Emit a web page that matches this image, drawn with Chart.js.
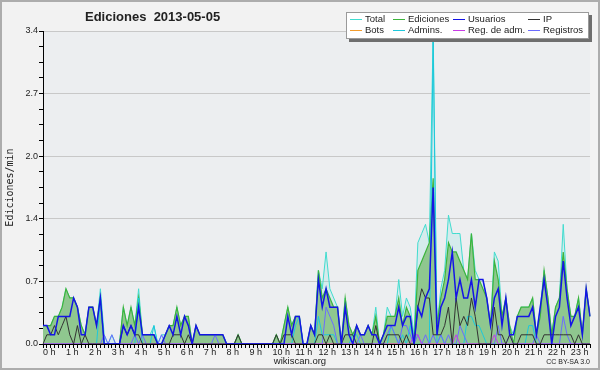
<!DOCTYPE html>
<html>
<head>
<meta charset="utf-8">
<script src="https://cdn.jsdelivr.net/npm/chart.js@4.4.0/dist/chart.umd.min.js"></script>
<style>
  body { margin: 0; background: #fff; }
  #wrap { position: relative; width: 600px; height: 370px; background: #f2f2f2; font-family: "Liberation Sans", Arial, sans-serif; color: #222; overflow: hidden; }
  #grafico { position: absolute; left: 0; top: 0; }
  #marco { position: absolute; left: 0; top: 0; width: 600px; height: 370px; box-sizing: border-box; border: 2px solid #adadad; pointer-events: none; }
  #titulo { position: absolute; left: 85px; top: 9px; font-weight: bold; font-size: 13px; white-space: pre; }
  #leyenda { position: absolute; left: 346px; top: 12px; width: 243px; height: 27px; box-sizing: border-box; background: #fff; border: 1px solid #9a9a9a; box-shadow: 3px 3px 0 #6e6e6e; font-size: 9.5px; }
  .item { position: absolute; white-space: nowrap; line-height: 11px; }
  .muestra { display: inline-block; width: 12px; height: 0; border-top: 1px solid; vertical-align: middle; margin-right: 3px; }
  #sitio { position: absolute; left: 0; width: 600px; top: 355px; text-align: center; font-size: 9.5px; }
  #licencia { position: absolute; right: 10px; top: 358px; font-size: 7px; }
</style>
</head>
<body>
<div id="wrap">
  <canvas id="grafico" width="600" height="370"></canvas>
  <div id="titulo">Ediciones  2013-05-05</div>
  <div id="leyenda"></div>
  <div id="sitio">wikiscan.org</div>
  <div id="licencia">CC BY-SA 3.0</div>
  <div id="marco"></div>
</div>
<script>
// etiquetas del eje x (una por hora) y del eje y
var horas = ['0 h', '1 h', '2 h', '3 h', '4 h', '5 h', '6 h', '7 h', '8 h', '9 h', '10 h', '11 h',
             '12 h', '13 h', '14 h', '15 h', '16 h', '17 h', '18 h', '19 h', '20 h', '21 h', '22 h', '23 h'];
var yMax = 3.4;
var yEtiquetas = ['0.0', '0.7', '1.4', '2.0', '2.7', '3.4'];

// ediciones por minuto, tramos de 10 minutos (6 por hora)
var total = [
  0.2, 0.2, 0.2, 0.3, 0.3, 0.4,   0.6, 0.5, 0.5, 0.4, 0.2, 0.1,
  0.4, 0.4, 0.2, 0.6, 0.1, 0,     0.1, 0, 0, 0.4, 0.2, 0.4,
  0.2, 0.6, 0.1, 0.1, 0.1, 0.2,   0, 0.1, 0.1, 0.2, 0.2, 0.4,
  0.2, 0.3, 0.3, 0, 0.2, 0.1,     0.1, 0.1, 0.1, 0.1, 0.1, 0.1,
  0, 0, 0, 0.1, 0, 0,             0, 0, 0, 0, 0, 0,
  0, 0.1, 0, 0.2, 0.4, 0.2,       0.3, 0.3, 0, 0, 0.2, 0.1,
  0.8, 0.6, 1.0, 0.6, 0.5, 0.4,   0, 0.5, 0.2, 0.1, 0.2, 0.1,
  0.1, 0.2, 0.1, 0.4, 0, 0.1,     0.4, 0.3, 0.3, 0.7, 0.3, 0.5,
  0.4, 0.1, 1.1, 1.2, 1.3, 1.1,   3.4, 0.2, 0.6, 0.8, 1.4, 1.2,
  1.2, 1.2, 0.8, 0.7, 1.2, 0.8,   0.7, 0.7, 0.5, 0.2, 1.0, 0.9,
  0.3, 0.5, 0.2, 0.1, 0.3, 0.4,   0.4, 0.4, 0.5, 0.1, 0.4, 0.8,
  0.5, 0.1, 0.4, 0.5, 1.3, 0.6,   0.3, 0.3, 0.5, 0.1, 0.6, 0.3
];
var ediciones = [
  0.2, 0.2, 0.2, 0.3, 0.3, 0.4,   0.6, 0.5, 0.5, 0.4, 0.2, 0.1,
  0.4, 0.4, 0.2, 0.5, 0, 0,       0, 0, 0, 0.4, 0.2, 0.4,
  0.2, 0.5, 0.1, 0.1, 0.1, 0.1,   0, 0, 0.1, 0.2, 0.2, 0.4,
  0.2, 0.3, 0.3, 0, 0.2, 0.1,     0.1, 0.1, 0.1, 0.1, 0.1, 0.1,
  0, 0, 0, 0.1, 0, 0,             0, 0, 0, 0, 0, 0,
  0, 0.1, 0, 0.2, 0.4, 0.2,       0.3, 0.3, 0, 0, 0.2, 0.1,
  0.8, 0.5, 0.6, 0.5, 0.4, 0.4,   0, 0.5, 0.2, 0.1, 0.2, 0.1,
  0.1, 0.2, 0.1, 0.3, 0, 0.1,     0.3, 0.3, 0.3, 0.5, 0.2, 0.4,
  0.3, 0, 0.8, 0.9, 1.0, 1.1,     1.8, 0.2, 0.5, 0.7, 1.1, 1.0,
  1.0, 0.9, 0.8, 0.7, 1.2, 0.7,   0.7, 0.6, 0.5, 0.2, 0.9, 0.7,
  0.3, 0.5, 0.2, 0, 0.3, 0.4,     0.4, 0.4, 0.5, 0.1, 0.3, 0.8,
  0.5, 0.1, 0.4, 0.5, 1.0, 0.6,   0.3, 0.3, 0.5, 0.1, 0.6, 0.3
];
var usuarios = [
  0.2, 0.2, 0.1, 0.1, 0.3, 0.3,   0.3, 0.3, 0.5, 0.4, 0.1, 0.1,
  0.4, 0.4, 0.2, 0.5, 0, 0,       0, 0, 0, 0.2, 0.1, 0.2,
  0.1, 0.4, 0.1, 0.1, 0.1, 0.1,   0, 0, 0.1, 0.2, 0.1, 0.3,
  0.1, 0.3, 0.2, 0, 0.2, 0.1,     0.1, 0.1, 0.1, 0.1, 0.1, 0.1,
  0, 0, 0, 0, 0, 0,               0, 0, 0, 0, 0, 0,
  0, 0, 0, 0, 0.3, 0.1,           0.3, 0.3, 0, 0, 0.2, 0.1,
  0.7, 0.4, 0.6, 0.4, 0.4, 0.4,   0, 0.4, 0.1, 0, 0.2, 0.1,
  0.1, 0.2, 0.1, 0.1, 0, 0.1,     0.2, 0.2, 0.2, 0.4, 0.2, 0.3,
  0.3, 0, 0.4, 0.3, 0.5, 0.6,     1.7, 0.1, 0.4, 0.5, 0.7, 1.0,
  0.5, 0.7, 0.5, 0.5, 0.7, 0.4,   0.7, 0.7, 0.5, 0.2, 0.5, 0.6,
  0.2, 0.5, 0.1, 0.1, 0.3, 0.3,   0.3, 0.3, 0.4, 0.1, 0.4, 0.7,
  0.4, 0, 0.3, 0.4, 0.9, 0.5,     0.2, 0.3, 0.4, 0.1, 0.6, 0.3
];
var ip = [
  0, 0.1, 0.1, 0.2, 0.1, 0.2,     0.3, 0.1, 0, 0.2, 0, 0.1,
  0, 0, 0, 0, 0, 0,               0, 0, 0, 0.2, 0.1, 0.2,
  0.1, 0.1, 0, 0, 0, 0,           0, 0, 0, 0, 0.1, 0.1,
  0.1, 0, 0.1, 0, 0, 0,           0, 0, 0, 0, 0, 0,
  0, 0, 0, 0.1, 0, 0,             0, 0, 0, 0, 0, 0,
  0, 0.1, 0, 0.1, 0.1, 0.1,       0, 0, 0, 0, 0, 0,
  0.1, 0.1, 0, 0.1, 0, 0,         0, 0.1, 0.1, 0.1, 0, 0,
  0, 0, 0, 0.2, 0, 0,             0.1, 0.1, 0.1, 0.1, 0, 0.1,
  0, 0, 0.4, 0.6, 0.5, 0.5,       0.1, 0.1, 0.1, 0.2, 0.4, 0,
  0.5, 0.2, 0.3, 0.2, 0.5, 0.3,   0, 0, 0, 0, 0.4, 0.1,
  0.1, 0, 0.1, 0, 0, 0.1,         0.1, 0.1, 0.1, 0, 0, 0.1,
  0.1, 0.1, 0.1, 0.1, 0.1, 0.1,   0.1, 0, 0.1, 0, 0, 0
];
var bots = [
  0, 0, 0, 0, 0, 0, 0, 0, 0, 0, 0, 0,   0, 0, 0, 0, 0, 0, 0, 0, 0, 0, 0, 0,
  0, 0, 0, 0, 0, 0, 0, 0, 0, 0, 0, 0,   0, 0, 0, 0, 0, 0, 0, 0, 0, 0, 0, 0,
  0, 0, 0, 0, 0, 0, 0, 0, 0, 0, 0, 0,   0, 0, 0, 0, 0, 0, 0, 0, 0, 0, 0, 0,
  0, 0, 0, 0, 0, 0, 0, 0, 0, 0, 0, 0,   0, 0, 0, 0, 0, 0, 0, 0, 0, 0, 0, 0,
  0, 0, 0, 0, 0, 0, 0, 0, 0, 0, 0, 0,   0, 0, 0, 0, 0, 0, 0, 0, 0, 0, 0, 0,
  0, 0, 0, 0, 0, 0, 0, 0, 0, 0, 0, 0,   0, 0, 0, 0, 0, 0, 0, 0, 0, 0, 0, 0
];
var admins = [
  0, 0, 0, 0, 0, 0,               0, 0, 0, 0, 0, 0,
  0, 0, 0, 0.5, 0, 0,             0, 0, 0, 0, 0, 0,
  0, 0.5, 0, 0, 0, 0.2,           0, 0, 0, 0, 0, 0,
  0, 0, 0, 0, 0, 0,               0, 0, 0, 0, 0, 0,
  0, 0, 0, 0, 0, 0,               0, 0, 0, 0, 0, 0,
  0, 0, 0, 0, 0, 0,               0.2, 0.3, 0, 0, 0, 0,
  0.3, 0.1, 0.1, 0.1, 0.1, 0,     0, 0, 0, 0.1, 0.1, 0,
  0, 0, 0, 0, 0, 0,               0, 0.2, 0.1, 0, 0.1, 0,
  0.2, 0, 0, 0, 0, 0,             3.3, 0, 0.1, 0, 0, 0,
  0, 0, 0, 0.3, 0.3, 0.2,         0.2, 0.1, 0, 0, 0, 0,
  0, 0, 0, 0, 0, 0,               0, 0.2, 0.2, 0, 0, 0,
  0, 0, 0, 0, 0, 0,               0, 0, 0, 0, 0, 0
];
var regAdm = [
  0, 0, 0, 0, 0, 0,               0, 0, 0, 0, 0, 0,
  0, 0, 0, 0, 0, 0,               0, 0, 0, 0, 0, 0,
  0, 0, 0, 0, 0, 0,               0, 0, 0, 0, 0, 0,
  0, 0, 0, 0, 0, 0,               0, 0, 0, 0, 0, 0,
  0, 0, 0, 0, 0, 0,               0, 0, 0, 0, 0, 0,
  0, 0, 0, 0, 0, 0,               0, 0, 0, 0, 0, 0,
  0, 0, 0, 0, 0, 0,               0, 0, 0, 0, 0, 0,
  0, 0, 0, 0, 0, 0,               0, 0, 0, 0, 0, 0,
  0, 0.1, 0.1, 0, 0, 0,           0, 0, 0, 0, 0, 0,
  0.1, 0, 0, 0, 0, 0,             0, 0, 0, 0, 0.1, 0,
  0, 0, 0, 0, 0, 0,               0, 0, 0, 0, 0, 0,
  0, 0, 0, 0, 0, 0,               0, 0, 0, 0, 0, 0
];
var registros = [
  0, 0, 0, 0, 0, 0,               0, 0, 0, 0, 0, 0,
  0, 0, 0, 0, 0.1, 0,             0.1, 0, 0, 0, 0, 0,
  0.1, 0, 0.1, 0, 0, 0,           0, 0.1, 0, 0, 0, 0,
  0, 0, 0, 0, 0, 0,               0, 0, 0, 0.1, 0, 0,
  0, 0, 0, 0, 0, 0,               0, 0, 0, 0, 0, 0,
  0, 0, 0, 0, 0, 0,               0, 0, 0, 0, 0, 0,
  0, 0, 0.4, 0.3, 0.2, 0,         0, 0, 0, 0, 0, 0.1,
  0, 0, 0, 0, 0, 0,               0.1, 0.2, 0.1, 0, 0.2, 0.2,
  0.1, 0, 0.1, 0, 0.1, 0,         0.1, 0, 0.1, 0, 0.1, 0,
  0, 0.2, 0.1, 0, 0, 0,           0, 0, 0, 0, 0, 0.2,
  0, 0, 0.1, 0, 0, 0,             0, 0, 0, 0.1, 0, 0,
  0, 0, 0, 0, 0.3, 0.1,           0, 0, 0, 0, 0, 0
];

// un tramo cada 10 minutos
var tramos = [];
for (var h = 0; h < 24; h++) {
  for (var m = 0; m < 60; m += 10) {
    tramos.push(h + ':' + (m < 10 ? '0' : '') + m);
  }
}

var fuente = 'Liberation Sans';

function serie(etiqueta, datos, color, ancho) {
  return {
    label: etiqueta,
    data: datos,
    borderColor: color,
    borderWidth: ancho,
    pointRadius: 0,
    tension: 0,
    fill: false
  };
}

// el primero se dibuja encima
var usuariosSerie = serie('Usuarios', usuarios, '#1414e6', 1.5);
var ipSerie = serie('IP', ip, '#333333', 1);
var regAdmSerie = serie('Reg. de adm.', regAdm, '#c83ce6', 1);
var registrosSerie = serie('Registros', registros, '#6b6bff', 1);
var adminsSerie = serie('Admins.', admins, '#1ec8dc', 1);
var botsSerie = serie('Bots', bots, '#f39c2d', 1);
var edicionesSerie = serie('Ediciones', ediciones, '#3cb43c', 1.2);
edicionesSerie.fill = 'origin';
edicionesSerie.backgroundColor = '#8fc78f';
var totalSerie = serie('Total', total, '#40dccf', 1);
totalSerie.fill = 'origin';
totalSerie.backgroundColor = 'rgba(64, 220, 207, 0.13)';

var series = [usuariosSerie, ipSerie, regAdmSerie, registrosSerie, adminsSerie, botsSerie, edicionesSerie, totalSerie];

var fondo = {
  id: 'fondo',
  beforeDraw: function(chart) {
    var a = chart.chartArea;
    var ctx = chart.ctx;
    ctx.save();
    ctx.fillStyle = '#eceef0';
    ctx.fillRect(a.left, a.top, a.right - a.left, a.bottom - a.top);
    ctx.restore();
  }
};

new Chart(document.getElementById('grafico'), {
  type: 'line',
  data: { labels: tramos, datasets: series },
  plugins: [fondo],
  options: {
    responsive: false,
    animation: false,
    devicePixelRatio: 1,
    layout: { padding: { top: 31, right: 10, left: 0, bottom: 0 } },
    plugins: { legend: { display: false }, tooltip: { enabled: false } },
    scales: {
      x: {
        type: 'category',
        offset: false,
        z: 1,
        grid: { drawOnChartArea: false, tickColor: '#000', tickLength: 4 },
        border: { color: '#000', width: 1 },
        ticks: {
          autoSkip: false,
          maxRotation: 0,
          minRotation: 0,
          align: 'start',
          padding: -1,
          color: '#222',
          font: { family: fuente, size: 9 },
          callback: function(valor, i) {
            return i % 6 === 0 ? horas[i / 6] : '';
          }
        },
        afterFit: function(escala) { escala.height = 26; }
      },
      y: {
        min: 0,
        max: yMax,
        afterBuildTicks: function(escala) {
          var marcas = [];
          for (var k = 0; k <= 20; k++) marcas.push({ value: k * yMax / 20 });
          escala.ticks = marcas;
        },
        grid: {
          color: function(c) { return c.index % 4 === 0 ? '#c8c8c8' : 'transparent'; },
          tickColor: '#000',
          tickLength: 4
        },
        border: { color: '#000', width: 1 },
        ticks: {
          autoSkip: false,
          padding: 1,
          color: '#222',
          font: { family: fuente, size: 9 },
          callback: function(valor, i) {
            return i % 4 === 0 ? yEtiquetas[i / 4] : '';
          }
        },
        title: {
          display: true,
          text: 'Ediciones/min',
          color: '#222',
          font: { family: 'DejaVu Sans Mono', size: 10 },
          padding: { top: 4, bottom: 0 }
        },
        afterFit: function(escala) { escala.width = 43; }
      }
    }
  }
});

// leyenda en 4 columnas, en el orden del original
var ordenLeyenda = [totalSerie, edicionesSerie, usuariosSerie, ipSerie, botsSerie, adminsSerie, regAdmSerie, registrosSerie];
var columnas = [3, 46, 106, 181];
var filas = [0, 11];
var leyenda = document.getElementById('leyenda');
ordenLeyenda.forEach(function(s, i) {
  var item = document.createElement('div');
  item.className = 'item';
  item.style.left = columnas[i % 4] + 'px';
  item.style.top = filas[Math.floor(i / 4)] + 'px';
  var muestra = document.createElement('span');
  muestra.className = 'muestra';
  muestra.style.borderTopColor = s.borderColor;
  item.appendChild(muestra);
  item.appendChild(document.createTextNode(s.label));
  leyenda.appendChild(item);
});
</script>
</body>
</html>
